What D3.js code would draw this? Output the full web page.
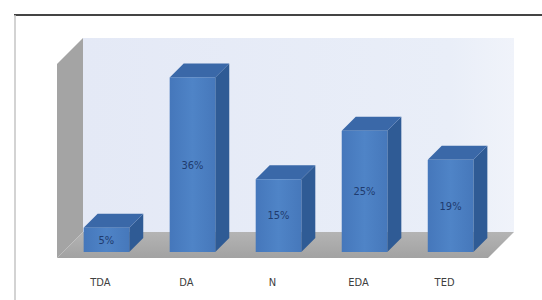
<!DOCTYPE html>
<html>
<head>
<meta charset="utf-8">
<script src="https://cdn.jsdelivr.net/npm/d3@7"></script>
<style>
  body { margin: 0; background: #fff; }
  svg { display: block; }
  .cat { font-family: "DejaVu Sans Condensed", "Liberation Sans Narrow", sans-serif; font-size: 11px; fill: #404040; }
  .val { font-family: "DejaVu Sans Condensed", "Liberation Sans Narrow", sans-serif; font-size: 11px; fill: #1f3b6e; }
</style>
</head>
<body>
<div id="container"></div>
<script>
// chart data
const categories = ['TDA', 'DA', 'N', 'EDA', 'TED'];
const values = [5, 36, 15, 25, 19];
const valueLabels = ['5%', '36%', '15%', '25%', '19%'];
const yMax = 40;

const W = 542, H = 300;
const svg = d3.select('#container').append('svg')
  .attr('width', W).attr('height', H);

// frame lines
svg.append('line').attr('x1', 14).attr('x2', W).attr('y1', 15).attr('y2', 15)
  .attr('stroke', '#444').attr('stroke-width', 2);
svg.append('line').attr('x1', 15).attr('x2', 15).attr('y1', 15).attr('y2', H)
  .attr('stroke', '#c4c4c4').attr('stroke-width', 1.5);

// 3d layout: front edge of floor, depth offset goes up-right at 45deg
const depth = 26;      // floor depth
const barOff = 6;      // bar front face sits this far into the floor
const barDepth = 14;   // bar thickness
const left = 57, right = 488, base = 258;

const xScale = d3.scaleBand()
  .domain(categories)
  .range([left, right])
  .paddingInner(0.47)
  .paddingOuter(0.24);

const yScale = d3.scaleLinear()
  .domain([0, yMax])
  .range([base, 64]);

const defs = svg.append('defs');
const g1 = defs.append('linearGradient').attr('id', 'wall').attr('x1', 0).attr('x2', 1).attr('y1', 0).attr('y2', 0);
g1.append('stop').attr('offset', 0).attr('stop-color', '#e4e9f6');
g1.append('stop').attr('offset', 0.85).attr('stop-color', '#e9eef8');
g1.append('stop').attr('offset', 1).attr('stop-color', '#f0f3fa');
const g2 = defs.append('linearGradient').attr('id', 'front').attr('x1', 0).attr('x2', 1).attr('y1', 0).attr('y2', 0);
g2.append('stop').attr('offset', 0).attr('stop-color', '#4577bb');
g2.append('stop').attr('offset', 0.5).attr('stop-color', '#4f84c7');
g2.append('stop').attr('offset', 1).attr('stop-color', '#4678bb');
const g3 = defs.append('linearGradient').attr('id', 'floor').attr('x1', 0).attr('x2', 0).attr('y1', 0).attr('y2', 1);
g3.append('stop').attr('offset', 0).attr('stop-color', '#b4b4b4');
g3.append('stop').attr('offset', 1).attr('stop-color', '#a2a2a2');

const pts = (arr) => arr.map(p => p.join(',')).join(' ');

// back wall
svg.append('polygon')
  .attr('points', pts([
    [left + depth, yScale(yMax) - depth], [right + depth, yScale(yMax) - depth],
    [right + depth, base - depth], [left + depth, base - depth]]))
  .attr('fill', 'url(#wall)');

// side wall
svg.append('polygon')
  .attr('points', pts([
    [left, yScale(yMax)], [left + depth, yScale(yMax) - depth],
    [left + depth, base - depth], [left, base]]))
  .attr('fill', '#a4a4a4');

// floor
svg.append('polygon')
  .attr('points', pts([
    [left, base], [left + depth, base - depth],
    [right + depth, base - depth], [right, base]]))
  .attr('fill', 'url(#floor)');

// bars
const bars = svg.selectAll('.bar')
  .data(categories.map((c, i) => ({ c, v: values[i], label: valueLabels[i] })))
  .enter().append('g').attr('class', 'bar');

const bx0 = d => xScale(d.c) + barOff;
const bx1 = d => xScale(d.c) + barOff + xScale.bandwidth();
const byTop = d => yScale(d.v) - barOff;
const byBase = () => yScale(0) - barOff;

// side face
bars.append('polygon')
  .attr('points', d => pts([
    [bx1(d), byTop(d)], [bx1(d) + barDepth, byTop(d) - barDepth],
    [bx1(d) + barDepth, byBase() - barDepth], [bx1(d), byBase()]]))
  .attr('fill', '#2f5b95');

// top face
bars.append('polygon')
  .attr('points', d => pts([
    [bx0(d), byTop(d)], [bx0(d) + barDepth, byTop(d) - barDepth],
    [bx1(d) + barDepth, byTop(d) - barDepth], [bx1(d), byTop(d)]]))
  .attr('fill', '#3a68a8');

// front face
bars.append('rect')
  .attr('x', bx0)
  .attr('y', byTop)
  .attr('width', xScale.bandwidth())
  .attr('height', d => byBase() - byTop(d))
  .attr('fill', 'url(#front)');

// value labels
bars.append('text')
  .attr('class', 'val')
  .attr('x', d => bx0(d) + xScale.bandwidth() / 2)
  .attr('y', d => (byTop(d) + byBase()) / 2)
  .attr('dy', '0.35em')
  .attr('text-anchor', 'middle')
  .text(d => d.label);

// category labels
svg.selectAll('.cat')
  .data(categories)
  .enter().append('text')
  .attr('class', 'cat')
  .attr('x', c => xScale(c) + xScale.bandwidth() / 2)
  .attr('y', 282)
  .attr('dy', '0.35em')
  .attr('text-anchor', 'middle')
  .text(c => c);
</script>
</body>
</html>
